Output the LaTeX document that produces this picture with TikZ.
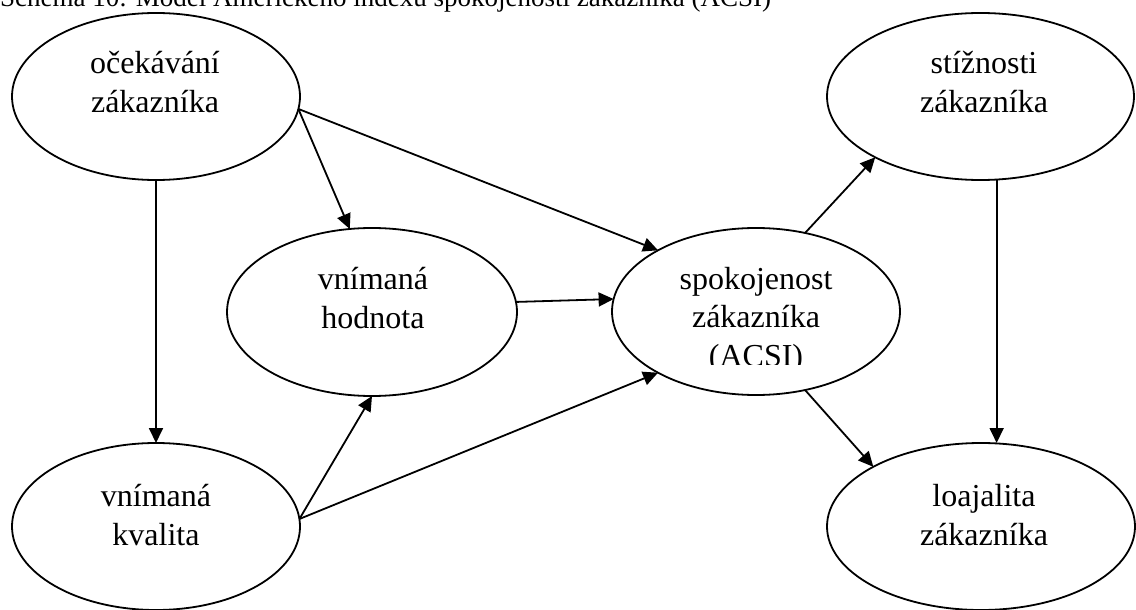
\documentclass[tikz,border=0pt]{standalone}
\usepackage{fontspec}
\setmainfont{Liberation Serif}
\usetikzlibrary{arrows.meta,shapes.geometric}
\begin{document}
\begin{tikzpicture}[x=1pt,y=-1pt,
  ell/.style={ellipse, draw, line width=1.8pt, inner sep=0pt, outer sep=0pt},
  lbl/.style={align=center, anchor=base, inner sep=0pt, font=\fontsize{32}{38.5}\selectfont},
  arr/.style={line width=1.8pt, -{Triangle[length=15pt,width=14pt]}}]
\useasboundingbox (0,0) rectangle (1136,610);
\node[anchor=base west, inner sep=0pt, font=\fontsize{27}{32}\selectfont] (title) at (0,7)
  {Schéma 10: Model Amerického indexu spokojenosti zákazníka (ACSI)};
% ellipses
\node[ell, minimum width=288pt, minimum height=167pt] (oc)  at (156,96.5) {};
\node[ell, minimum width=307pt, minimum height=167pt] (st)  at (980.5,96.5) {};
\node[ell, minimum width=290pt, minimum height=168pt] (hod) at (372,312) {};
\node[ell, minimum width=288pt, minimum height=167pt] (spo) at (756,311.5) {};
\node[ell, minimum width=288pt, minimum height=167pt] (kva) at (156,526.5) {};
\node[ell, minimum width=308pt, minimum height=167pt] (loa) at (981,526.5) {};
% labels (anchor base = baseline of the last line)
\node[lbl] (oct)  at (155,112) {očekávání\\zákazníka};
\node[lbl] (stt)  at (984,112) {stížnosti\\zákazníka};
\node[lbl] (hodt) at (373,328) {vnímaná\\hodnota};
\begin{scope}
  \clip (0,0) rectangle (1136,364.5);
  \node[lbl] (spot) at (756,366) {spokojenost\\zákazníka\\(ACSI)};
\end{scope}
\node[lbl] (kvat) at (156,545) {vnímaná\\kvalita};
\node[lbl] (loat) at (984,545) {loajalita\\zákazníka};
% connectors
\draw[arr] (oc.south) -- (kva.north);
\draw[arr] (oc.-5) -- (hod.105.9);
\draw[arr] (oc.-5) -- (spo.148.7);
\draw[arr] (hod.4.7) -- (spo.175.4);
\draw[arr] (kva.3.8) -- (hod.south);
\draw[arr] (kva.3.8) -- (spo.212.1);
\draw[arr] (spo.58.6) -- (st.210.2);
\draw[arr] (spo.-58.6) -- (loa.151.1);
\draw[arr] (st.-79.4) -- (st.-79.4 |- loa.north);
\end{tikzpicture}
\end{document}
